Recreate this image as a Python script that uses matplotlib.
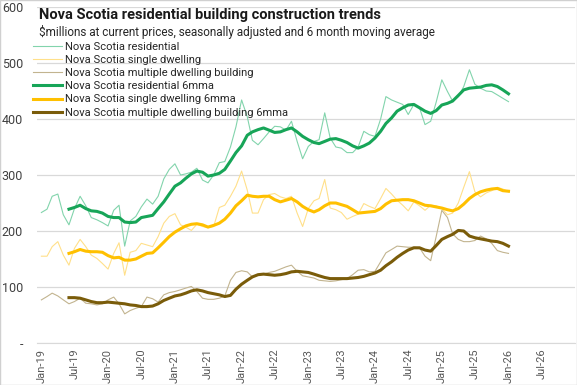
import pandas as pd
import matplotlib.pyplot as plt
import matplotlib.dates as mdates
from matplotlib.patches import Rectangle

# monthly values, Jan-19 .. Jan-26, $ millions
months = pd.date_range('2019-01-01', periods=85, freq='MS')
mma_months = months[5:]

residential = [233, 239, 262, 266, 229, 211, 240, 262, 245, 224,
               220, 215, 209, 237, 246, 173, 218, 226, 243, 257,
               248, 262, 293, 310, 320, 300, 302, 305, 312, 291,
               286, 300, 322, 324, 350, 386, 434, 404, 362, 354,
               365, 377, 387, 386, 380, 396, 360, 329, 351, 360,
               363, 411, 366, 350, 348, 340, 340, 350, 378, 372,
               369, 400, 440, 434, 430, 426, 408, 426, 420, 390,
               396, 430, 470, 449, 432, 440, 458, 488, 462, 455,
               450, 449, 443, 437, 431]
single = [155, 155, 172, 181, 157, 139, 169, 185, 172, 157,
          151, 142, 132, 160, 179, 121, 162, 165, 178, 175,
          172, 190, 214, 226, 231, 211, 207, 201, 212, 208,
          206, 208, 242, 246, 262, 280, 307, 273, 232, 232,
          256, 265, 267, 261, 258, 262, 232, 208, 240, 254,
          258, 292, 241, 238, 233, 221, 226, 230, 249, 244,
          240, 258, 276, 266, 255, 246, 236, 252, 245, 237,
          246, 245, 240, 229, 232, 250, 278, 306, 270, 261,
          268, 272, 278, 275, 270]
multiple = [77, 83, 89, 84, 77, 70, 74, 80, 71, 70,
            68, 70, 77, 82, 70, 52, 58, 62, 65, 82,
            79, 73, 86, 90, 92, 95, 98, 101, 92, 80,
            78, 78, 80, 84, 112, 126, 129, 127, 118, 122,
            123, 126, 128, 132, 136, 139, 128, 120, 118, 116,
            112, 111, 110, 111, 113, 115, 122, 130, 131, 127,
            128, 145, 161, 167, 173, 172, 171, 171, 170, 155,
            147, 190, 237, 224, 195, 185, 181, 181, 183, 191,
            186, 178, 165, 162, 160]

# 6 month moving averages, Jun-19 .. Jan-26
residential_6mma = [239, 242, 246, 240, 236,
                    235, 232, 226, 224, 224, 216, 215, 216, 224, 226,
                    228, 240, 252, 266, 280, 286, 294, 302, 307, 305,
                    298, 300, 303, 310, 325, 340, 352, 371, 377, 381,
                    384, 380, 376, 377, 381, 384, 377, 369, 363, 358,
                    356, 360, 364, 365, 362, 358, 352, 348, 352, 357,
                    366, 378, 392, 402, 414, 420, 425, 426, 420, 414,
                    410, 415, 425, 428, 432, 442, 452, 455, 456, 457,
                    460, 461, 458, 452, 445]
single_6mma = [160, 163, 167, 164, 163,
               163, 162, 156, 152, 153, 148, 148, 150, 155, 160,
               161, 170, 180, 190, 198, 204, 209, 212, 213, 211,
               207, 210, 214, 221, 232, 245, 254, 264, 262, 261,
               262, 262, 256, 252, 255, 258, 252, 244, 238, 234,
               238, 245, 250, 250, 247, 244, 238, 232, 233, 234,
               235, 240, 248, 254, 255, 256, 256, 254, 250, 246,
               245, 243, 241, 238, 236, 240, 248, 258, 265, 270,
               273, 275, 276, 272, 271]
multiple_6mma = [81, 81, 80, 77, 74,
                 72, 72, 73, 72, 71, 70, 68, 67, 65, 65,
                 66, 70, 76, 80, 84, 86, 89, 93, 95, 93,
                 90, 88, 86, 83, 85, 96, 105, 112, 118, 122,
                 123, 122, 121, 122, 124, 127, 128, 127, 126, 123,
                 120, 117, 115, 115, 115, 115, 116, 117, 119, 122,
                 125, 130, 138, 145, 153, 160, 166, 170, 170, 166,
                 164, 174, 185, 190, 194, 201, 200, 191, 188, 186,
                 184, 182, 181, 178, 173]

plt.rcParams['font.family'] = ['Roboto', 'DejaVu Sans']

fig = plt.figure(figsize=(5.77, 3.85), dpi=100)
ax = fig.add_axes([37 / 577, 42 / 385, 538 / 577, 336 / 385])

ax.plot(months, residential, color='#82d4ac', lw=0.8, label='Nova Scotia residential')
ax.plot(months, single, color='#ffe08a', lw=0.8, label='Nova Scotia single dwelling')
ax.plot(months, multiple, color='#c2b48f', lw=0.8, label='Nova Scotia multiple dwelling building')
ax.plot(mma_months, residential_6mma, color='#17a558', lw=2.2, label='Nova Scotia residential 6mma')
ax.plot(mma_months, single_6mma, color='#ffc000', lw=2.2, label='Nova Scotia single dwelling 6mma')
ax.plot(mma_months, multiple_6mma, color='#7a5c0a', lw=2.2, label='Nova Scotia multiple dwelling building 6mma')

ax.set_ylim(0, 600)
ax.set_yticks(range(0, 601, 100))
ax.set_yticklabels(['-'] + [str(v) for v in range(100, 601, 100)])
ax.set_xlim(pd.Timestamp('2018-12-08'), pd.Timestamp('2026-12-31'))
ax.xaxis.set_major_locator(mdates.MonthLocator(bymonth=[1, 7]))
ax.xaxis.set_major_formatter(mdates.DateFormatter('%b-%y'))
ax.tick_params(axis='x', rotation=90, labelsize=8, length=0, pad=4, colors='#595959')
ax.tick_params(axis='y', labelsize=9, length=0, pad=10, colors='#404040')

ax.grid(axis='y', color='#d9d9d9', lw=0.9)
ax.set_axisbelow(True)
for side in ['top', 'right', 'left']:
    ax.spines[side].set_visible(False)
ax.spines['bottom'].set_color('#d9d9d9')

fig.text(39 / 577, 1 - 15 / 385, 'Nova Scotia residential building construction trends',
         fontsize=10.5, fontweight='bold', va='center', ha='left', color='#1a1a1a')
fig.text(39 / 577, 1 - 32 / 385,
         '$millions at current prices, seasonally adjusted and 6 month moving average',
         fontsize=8.5, va='center', ha='left', color='#262626')

ax.legend(loc='upper left', bbox_to_anchor=(33 / 577, 1 - 41.5 / 385),
          bbox_transform=fig.transFigure, frameon=False, fontsize=8,
          borderpad=0, borderaxespad=0, handlelength=2.6, handletextpad=0.3,
          labelspacing=0.29, labelcolor='#262626')

fig.patches.append(Rectangle((0, 0), 1, 1, transform=fig.transFigure, fill=False,
                             edgecolor='#d0d0d0', lw=1))

fig.savefig('out.png', dpi=100)
